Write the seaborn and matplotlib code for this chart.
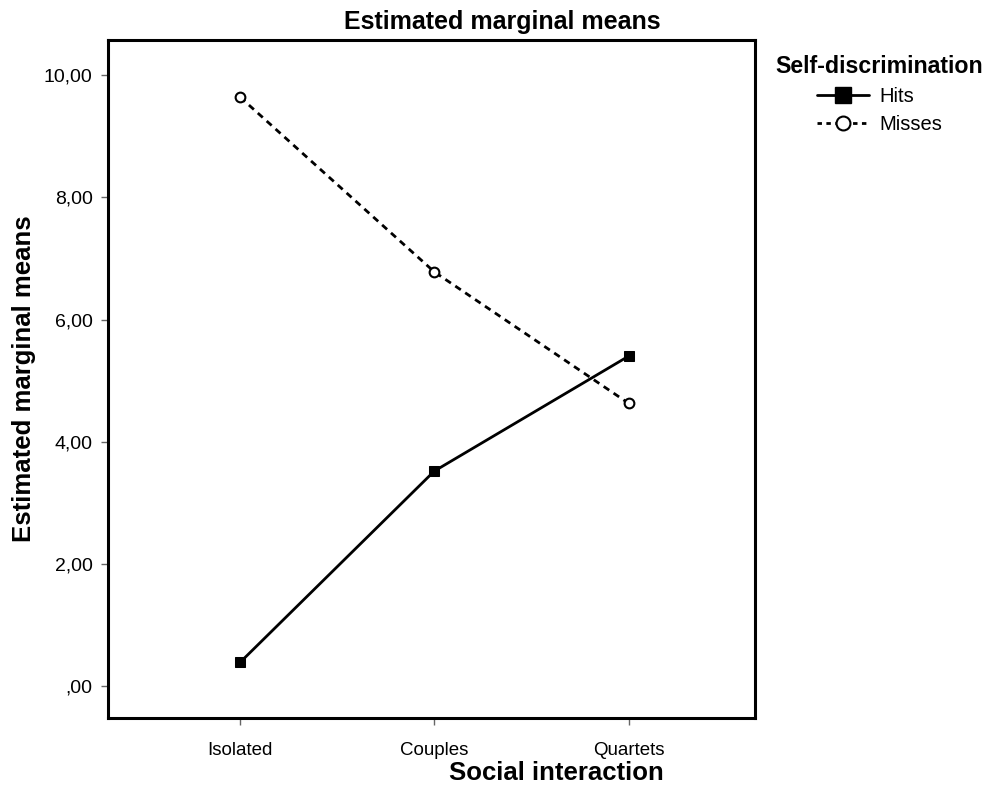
import matplotlib
matplotlib.use("Agg")
import matplotlib.pyplot as plt
from matplotlib.lines import Line2D
import seaborn as sns
import pandas as pd

categories = ["Isolated", "Couples", "Quartets"]
hits = [0.39, 3.52, 5.40]
misses = [9.64, 6.78, 4.63]
yticks = [0, 2, 4, 6, 8, 10]
ytick_labels = [",00", "2,00", "4,00", "6,00", "8,00", "10,00"]

sns.set_theme(style="white")
plt.rcParams['font.family'] = ['Liberation Sans', 'DejaVu Sans']
plt.rcParams['text.color'] = 'black'
plt.rcParams['axes.labelcolor'] = 'black'
plt.rcParams['xtick.color'] = 'black'
plt.rcParams['ytick.color'] = 'black'

df = pd.DataFrame({
    "x": list(range(len(categories))) * 2,
    "y": hits + misses,
    "series": ["Hits"] * len(hits) + ["Misses"] * len(misses),
})

fig = plt.figure(figsize=(9.86, 7.9), dpi=100)
ax = fig.add_axes([0.1095, 0.0911, 0.656, 0.858])

d_h = df[df.series == "Hits"]
d_m = df[df.series == "Misses"]
sns.lineplot(data=d_h, x="x", y="y", ax=ax, color="black", lw=2.0,
             marker="s", markersize=7, markerfacecolor="black",
             markeredgecolor="black", legend=False)
sns.lineplot(data=d_m, x="x", y="y", ax=ax, color="black", lw=2.0,
             linestyle=(0, (2.4, 1.9)), marker="o", markersize=7,
             markerfacecolor="white", markeredgecolor="black",
             markeredgewidth=1.5, legend=False)

ax.set_xlim(-0.68, 2.65)
ax.set_ylim(-0.52, 10.57)
ax.set_xticks(range(len(categories)))
ax.set_xticklabels(categories, fontsize=13.5)
ax.set_yticks(yticks)
ax.set_yticklabels(ytick_labels, fontsize=14)
ax.tick_params(axis="both", direction="out", length=5, width=1,
               color="#666666", labelcolor="black", left=True, bottom=True)
ax.tick_params(axis="y", pad=6)
ax.tick_params(axis="x", pad=12)
for s in ax.spines.values():
    s.set_visible(True)
    s.set_color("black")
    s.set_linewidth(2.2)

ax.set_xlabel("Social interaction", fontsize=18.5, fontweight="bold")
ax.xaxis.set_label_coords(0.694, -0.064)
ax.set_ylabel("Estimated marginal means", fontsize=18.5, fontweight="bold")
ax.yaxis.set_label_coords(-0.112, 0.5)
ax.set_title("Estimated marginal means", fontsize=18, fontweight="bold",
             x=0.609, pad=8)
ax.grid(False)

handles = [
    Line2D([], [], color="black", lw=2.0, marker="s", markersize=11,
           markerfacecolor="black", markeredgecolor="black"),
    Line2D([], [], color="black", lw=2.0, linestyle=(0, (1.6, 1.6)),
           marker="o", markersize=10, markerfacecolor="white",
           markeredgecolor="black", markeredgewidth=1.5),
]
leg = fig.legend(handles, ["Hits", "Misses"], title="Self-discrimination",
                 loc="upper left", bbox_to_anchor=(0.768, 0.953),
                 frameon=False, fontsize=14.5,
                 title_fontproperties={"weight": "bold", "size": 16.7},
                 handlelength=2.6, handletextpad=0.5, labelspacing=0.45,
                 borderaxespad=0, borderpad=0.9)

fig.savefig("out.png", dpi=100)
